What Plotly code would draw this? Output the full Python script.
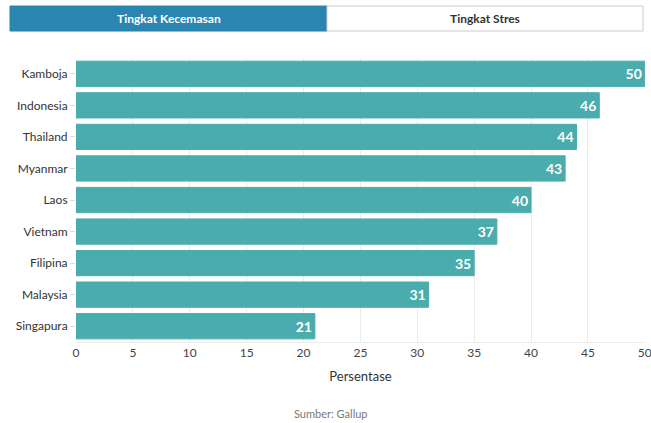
import plotly.graph_objects as go

countries = ["Kamboja", "Indonesia", "Thailand", "Myanmar", "Laos", "Vietnam", "Filipina", "Malaysia", "Singapura"]
values = [50, 46, 44, 43, 40, 37, 35, 31, 21]
tick_vals = [0, 5, 10, 15, 20, 25, 30, 35, 40, 45, 50]
tabs = ["Tingkat Kecemasan", "Tingkat Stres"]

FONT = "Lato"

fig = go.Figure(go.Bar(
    x=values, y=countries, orientation="h",
    marker=dict(color="#4aacac", line=dict(color="#4aacac", width=1)),
    text=["<b>" + str(v) + "</b>" for v in values], textposition="inside", insidetextanchor="end",
    textfont=dict(color="white", size=14, family=FONT),
    hoverinfo="x+y",
))

fig.update_layout(
    width=651, height=423,
    margin=dict(l=76, r=6, t=58, b=81),
    paper_bgcolor="white", plot_bgcolor="white",
    font=dict(family=FONT, color="#333333", size=12),
    bargap=0.2,
    showlegend=False,
    xaxis=dict(range=[0, 50.02], tickvals=tick_vals, showgrid=True, gridcolor="#ebebeb",
               zeroline=False, showline=True, linecolor="#ebebeb",
               ticklabeloverflow="allow", automargin=False,
               tickfont=dict(size=12, color="#444"),
               title=dict(text="Persentase", font=dict(size=13, color="#333"), standoff=12)),
    yaxis=dict(categoryorder="array", categoryarray=countries[::-1], autorange=True,
               ticks="outside", ticklen=5, tickcolor="#dddddd", automargin=False,
               tickfont=dict(size=12, color="#333"), showgrid=False),
    shapes=[
        dict(type="rect", xref="paper", yref="paper", x0=-0.1160, x1=0.4411, y0=1.095, y1=1.183,
             fillcolor="#2a86b0", line=dict(color="#2a86b0", width=1), layer="above"),
        dict(type="rect", xref="paper", yref="paper", x0=0.4411, x1=0.9965, y0=1.095, y1=1.183,
             fillcolor="white", line=dict(color="#cccccc", width=1), layer="above"),
    ],
    annotations=[
        dict(text="<b>" + tabs[0] + "</b>", xref="paper", yref="paper", x=0.1626, y=1.139,
             xanchor="center", yanchor="middle",
             showarrow=False, font=dict(color="white", size=12, family=FONT)),
        dict(text="<b>" + tabs[1] + "</b>", xref="paper", yref="paper", x=0.7188, y=1.139,
             xanchor="center", yanchor="middle",
             showarrow=False, font=dict(color="#333", size=12, family=FONT)),
        dict(text="Sumber: Gallup", xref="paper", yref="paper", x=0.448, y=-0.25,
             xanchor="center", yanchor="middle", showarrow=False,
             font=dict(color="#777", size=11, family=FONT)),
    ],
)

fig.write_html("out.html")
